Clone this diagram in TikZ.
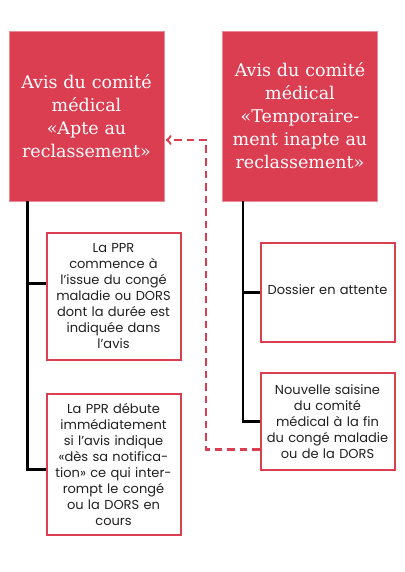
\documentclass[tikz,border=0pt]{standalone}
\usepackage{fontspec}
\setmainfont{Poppins}
\newfontfamily\slabfont{DejaVu Serif}
\usepackage{tikz}
\usetikzlibrary{arrows, calc, positioning}

\definecolor{avisred}{HTML}{DB3D51}
\definecolor{bodygray}{HTML}{202020}

\tikzset{
  avis/.style={fill=avisred, draw=avisred!60!white, line width=0.8pt, text=white,
    minimum width=155pt, minimum height=170pt, text width=152pt, align=center,
    font=\slabfont\fontsize{17.5}{23}\selectfont, inner sep=0pt},
  suite/.style={draw=avisred, line width=2pt, fill=white, text=bodygray,
    minimum width=134pt, text width=130pt, align=center, inner sep=0pt,
    font=\fontsize{13}{16}\selectfont},
  trunk/.style={line width=2.5pt, black},
  retour/.style={draw=avisred, line width=2.4pt, dash pattern=on 7.5pt off 5pt, ->, >=to}
}

\begin{document}
\begin{tikzpicture}[x=1pt, y=-1pt]
  \useasboundingbox[fill=white] (0,0) rectangle (404,572);
  % top boxes
  \node[avis] (apte) at (86.5,116) {Avis du comité\\médical\\«Apte au\\reclassement»};
  \node[avis] (inapte) at (300,116) {Avis du comité\\médical\\«Temporaire-\\ment inapte au\\reclassement»};
  % left column
  \node[suite, minimum height=127pt] (debut) at (113.5,296.5) {La PPR\\commence à\\l'issue du congé\\maladie ou DORS\\dont la durée est\\indiquée dans\\l'avis};
  \node[suite, minimum height=141pt] (immed) at (113.5,464.5) {La PPR débute\\immédiatement\\si l'avis indique\\«dès sa notifica-\\tion» ce qui inter-\\rompt le congé\\ou la DORS en\\cours};
  % right column
  \node[suite, minimum height=99pt] (attente) at (327.5,292.5) {\raisebox{5pt}{Dossier en attente}};
  \node[suite, minimum height=97pt] (saisine) at (327.5,421.5) {Nouvelle saisine\\du comité\\médical à la fin\\du congé maladie\\ou de la DORS};
  % trunks
  \coordinate (tl) at ($(apte.south west)+(19,0)$);
  \coordinate (tr) at ($(inapte.south west)+(21,0)$);
  \draw[trunk] (tl) |- ([yshift=13]debut.west);
  \draw[trunk] (tl) |- ([yshift=-5]immed.west);
  \draw[trunk] (tr) |- (attente.west);
  \draw[trunk] (tr) |- (saisine.west);
  % dashed link back
  \coordinate (coude) at (206,140);
  \draw[retour] ([yshift=-28]saisine.west) -| (coude) -- ([yshift=-24,xshift=1.5]apte.east);
\end{tikzpicture}
\end{document}
